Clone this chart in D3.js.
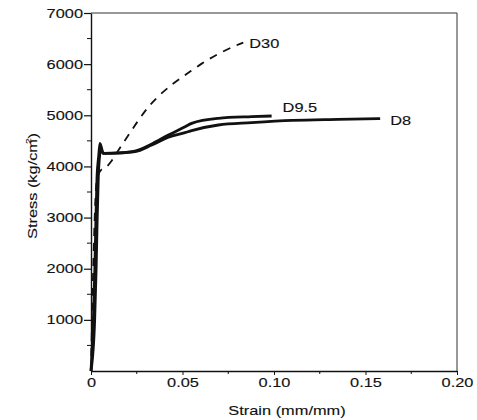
<!DOCTYPE html>
<html>
<head>
<meta charset="utf-8">
<script src="https://cdn.jsdelivr.net/npm/d3@7"></script>
<style>
  body { margin: 0; background: #fff; }
  text { font-family: "Liberation Sans", Arial, Helvetica, sans-serif; fill: #111; stroke: #111; stroke-width: 0.12px; }
</style>
</head>
<body>
<div id="chart"></div>
<script>
'use strict';

// data
var strainD8 = [0, 0.0013, 0.0021, 0.0027, 0.0033, 0.0042, 0.0049, 0.0067, 0.015, 0.024, 0.0332, 0.0423, 0.0514, 0.055, 0.0696, 0.0878, 0.11, 0.135, 0.158]
var stressD8 = [0, 1000, 2000, 3000, 3800, 4200, 4450, 4257, 4262, 4288, 4419, 4570, 4660, 4700, 4810, 4856, 4900, 4920, 4935]

var strainD95 = [0, 0.002, 0.0028, 0.0034, 0.004, 0.0047, 0.0055, 0.0067, 0.015, 0.024, 0.0332, 0.0423, 0.0514, 0.055, 0.0696, 0.0878, 0.0987]
var stressD95 = [0, 1000, 2000, 3000, 3800, 4200, 4330, 4257, 4265, 4300, 4440, 4615, 4777, 4843, 4941, 4973, 4986]

var strainD30 = [0, 0.0012, 0.0032, 0.0055, 0.0086, 0.0113, 0.0149, 0.0195, 0.0259, 0.0313, 0.0377, 0.045, 0.0532, 0.0605, 0.0696, 0.0796, 0.0832]
var stressD30 = [0, 2000, 3750, 3930, 3995, 4110, 4310, 4560, 4900, 5160, 5400, 5620, 5830, 6010, 6200, 6370, 6420]

var xTicks = [0, 0.05, 0.10, 0.15, 0.20]
var xTickLabels = ['0', '0.05', '0.10', '0.15', '0.20']
var yTicks = [1000, 2000, 3000, 4000, 5000, 6000, 7000]

var width = 477, height = 420
var margin = {top: 13, right: 20, bottom: 49, left: 91}
var sx = 1.28   // scanned lettering is wide
var fs = '12.8px'

var svg = d3.select('#chart').append('svg')
  .attr('width', width)
  .attr('height', height)

var x = d3.scaleLinear().domain([0, 0.2]).range([margin.left, width - margin.right])
var y = d3.scaleLinear().domain([0, 7000]).range([height - margin.bottom, margin.top])

// frame (top + right)
svg.append('path')
  .attr('d', 'M' + x(0) + ',' + y(7000) + 'H' + x(0.2) + 'V' + y(0))
  .attr('fill', 'none')
  .attr('stroke', '#333')
  .attr('stroke-width', 1)

// y axis
var yAxis = svg.append('g')
  .attr('transform', 'translate(' + x(0) + ',0)')
  .call(d3.axisLeft(y).tickValues(yTicks).tickSize(7).tickSizeOuter(0).tickPadding(1).tickFormat(d3.format('d')))
yAxis.select('.domain').attr('stroke', '#111').attr('stroke-width', 1.4)
yAxis.selectAll('.tick line').attr('stroke', '#111').attr('stroke-width', 1.2)
yAxis.selectAll('.tick text')
  .style('font-size', fs)
  .attr('x', -8 / sx)
  .attr('transform', 'scale(' + sx + ',1)')

var yMinor = d3.range(500, 7000, 1000)
svg.append('g').selectAll('line')
  .data(yMinor)
  .enter()
  .append('line')
  .attr('x1', x(0) - 4)
  .attr('x2', x(0))
  .attr('y1', function(d){ return y(d) })
  .attr('y2', function(d){ return y(d) })
  .attr('stroke', '#111')
  .attr('stroke-width', 1)

// x axis
var xAxis = svg.append('g')
  .attr('transform', 'translate(0,' + y(0) + ')')
  .call(d3.axisBottom(x).tickValues(xTicks).tickSize(4).tickSizeOuter(0).tickPadding(3)
    .tickFormat(function(d, i){ return xTickLabels[i] }))
xAxis.select('.domain').attr('stroke', '#111').attr('stroke-width', 1.4)
xAxis.selectAll('.tick line').attr('stroke', '#111')
xAxis.selectAll('.tick text')
  .style('font-size', fs)
  .attr('transform', 'scale(' + sx + ',1)')

var xMinor = [0.025, 0.075, 0.125, 0.175]
svg.append('g').selectAll('line')
  .data(xMinor)
  .enter()
  .append('line')
  .attr('x1', function(d){ return x(d) })
  .attr('x2', function(d){ return x(d) })
  .attr('y1', y(0))
  .attr('y2', y(0) + 3)
  .attr('stroke', '#111')

// axis titles
svg.append('text')
  .attr('transform', 'translate(287,415) scale(' + sx + ',1)')
  .attr('text-anchor', 'middle')
  .style('font-size', fs)
  .text('Strain (mm/mm)')

var yTitle = svg.append('text')
  .attr('transform', 'translate(37,186) rotate(-90) scale(' + sx + ',1)')
  .attr('text-anchor', 'middle')
  .style('font-size', fs)
yTitle.append('tspan').text('Stress (kg/cm')
yTitle.append('tspan').style('font-size', '8px').attr('dy', -6).attr('dx', -4).text('2')
yTitle.append('tspan').attr('dy', 6).text(')')

// curves
var line = d3.line()
  .x(function(d){ return x(d[0]) })
  .y(function(d){ return y(d[1]) })
  .curve(d3.curveMonotoneX)

var curves = [
  {name: 'D30', strain: strainD30, stress: stressD30, dash: '8,7', w: 1.8},
  {name: 'D9.5', strain: strainD95, stress: stressD95, dash: null, w: 2.8},
  {name: 'D8', strain: strainD8, stress: stressD8, dash: null, w: 2.8}
]

svg.append('g').selectAll('path')
  .data(curves)
  .enter()
  .append('path')
  .attr('d', function(c){ return line(d3.zip(c.strain, c.stress)) })
  .attr('fill', 'none')
  .attr('stroke', '#111')
  .attr('stroke-width', function(c){ return c.w })
  .attr('stroke-dasharray', function(c){ return c.dash })
  .attr('stroke-linejoin', 'round')

// curve labels, placed just past each curve end
var labelOffset = {'D30': [6, 5], 'D9.5': [11, -4], 'D8': [10, 6]}
svg.append('g').selectAll('text')
  .data(curves)
  .enter()
  .append('text')
  .attr('transform', function(c){
    var n = c.strain.length - 1
    var o = labelOffset[c.name]
    return 'translate(' + (x(c.strain[n]) + o[0]) + ',' + (y(c.stress[n]) + o[1]) + ') scale(' + sx + ',1)'
  })
  .style('font-size', fs)
  .text(function(c){ return c.name })
</script>
</body>
</html>
